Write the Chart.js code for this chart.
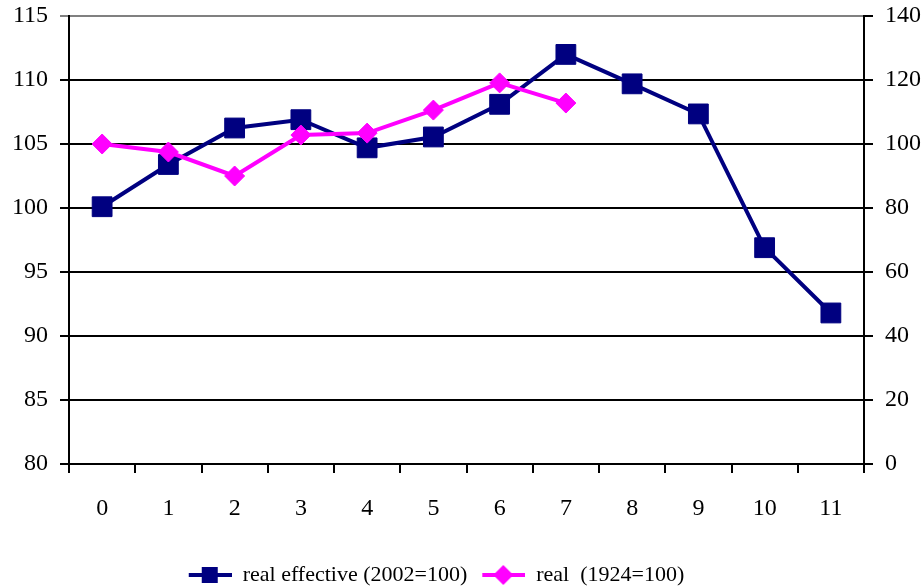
<!DOCTYPE html>
<html>
<head>
<meta charset="utf-8">
<script src="https://cdn.jsdelivr.net/npm/chart.js@4/dist/chart.umd.min.js"></script>
<style>
html,body{margin:0;padding:0;background:#fff;}
#wrap{width:924px;height:588px;position:relative;}
</style>
</head>
<body>
<div id="wrap"><canvas id="c" width="924" height="588"></canvas></div>
<script>
const categories = ['0','1','2','3','4','5','6','7','8','9','10','11'];
const realEffective = [100.1, 103.4, 106.25, 106.9, 104.7, 105.55, 108.1, 112.0, 109.7, 107.35, 96.9, 91.8];
const real1924 = [100, 97.5, 90, 102.8, 103.4, 110.6, 119.1, 112.8, null, null, null, null];
const leftTicks = [80, 85, 90, 95, 100, 105, 110, 115];
const rightTicks = [0, 20, 40, 60, 80, 100, 120, 140];

const NAVY = '#000080';
const PINK = '#FF00FF';
const FONT = '"Liberation Serif", "Times New Roman", serif';

function legendIcon(color, shape) {
  const cv = document.createElement('canvas');
  cv.width = 58; cv.height = 22;
  const g = cv.getContext('2d');
  const x0 = 15, x1 = 58, cx = 36;
  g.strokeStyle = color; g.lineWidth = 4;
  g.beginPath(); g.moveTo(x0, 11); g.lineTo(x1, 11); g.stroke();
  g.fillStyle = color;
  if (shape === 'rect') {
    g.fillRect(cx - 8, 11 - 8, 16, 16);
  } else {
    g.beginPath(); g.moveTo(cx - 10, 11); g.lineTo(cx, 1); g.lineTo(cx + 10, 11); g.lineTo(cx, 21); g.closePath(); g.fill();
  }
  return cv;
}

const legendShift = {
  id: 'legendShift',
  afterLayout(chart) {
    const lg = chart.legend;
    if (lg) { lg.left -= 33; lg.right -= 33; lg.top += 8; lg.bottom += 8; }
  }
};

new Chart(document.getElementById('c'), {
  type: 'line',
  data: {
    labels: categories,
    datasets: [
      {
        label: 'real effective (2002=100)',
        data: realEffective,
        yAxisID: 'y',
        borderColor: NAVY,
        backgroundColor: NAVY,
        borderWidth: 4,
        pointStyle: 'rect',
        pointRadius: 14,
        pointBorderWidth: 1,
        pointBorderColor: NAVY,
        pointBackgroundColor: NAVY,
        tension: 0,
        order: 2
      },
      {
        label: 'real  (1924=100)',
        data: real1924,
        yAxisID: 'y1',
        borderColor: PINK,
        backgroundColor: PINK,
        borderWidth: 4,
        pointStyle: 'rectRot',
        pointRadius: 10,
        pointBorderWidth: 1,
        pointBorderColor: PINK,
        pointBackgroundColor: PINK,
        tension: 0,
        spanGaps: false,
        order: 1
      }
    ]
  },
  plugins: [legendShift],
  options: {
    responsive: false,
    animation: false,
    devicePixelRatio: 1,
    layout: { padding: { top: 16, left: 0, right: 0, bottom: 0 } },
    plugins: {
      tooltip: { enabled: false },
      legend: {
        position: 'bottom',
        labels: {
          usePointStyle: true,
          pointStyleWidth: 58,
          boxHeight: 22,
          padding: 0,
          color: '#000',
          font: { family: FONT, size: 22 },
          generateLabels: (chart) => {
            return chart.data.datasets.map((ds, i) => ({
              text: ds.label,
              pointStyle: legendIcon(ds.borderColor, i === 0 ? 'rect' : 'diamond'),
              fillStyle: ds.borderColor,
              strokeStyle: ds.borderColor,
              lineWidth: 0,
              hidden: false,
              datasetIndex: i,
              fontColor: '#000'
            }));
          }
        }
      }
    },
    scales: {
      x: {
        type: 'category',
        offset: true,
        grid: { display: true, offset: true, drawOnChartArea: false, drawTicks: true, tickLength: 9, color: '#000', lineWidth: 2 },
        border: { display: true, color: '#000', width: 2 },
        ticks: { color: '#000', font: { family: FONT, size: 24 }, padding: 21, maxRotation: 0, autoSkip: false },
        afterFit: (s) => { s.height = 92; }
      },
      y: {
        type: 'linear',
        position: 'left',
        min: 80, max: 115,
        afterBuildTicks: (s) => { s.ticks = leftTicks.map(v => ({ value: v })); },
        grid: {
          drawOnChartArea: true, drawTicks: true, tickLength: 9,
          color: (ctx) => (ctx.tick && ctx.tick.value === 115 ? '#808080' : '#000'),
          lineWidth: 2
        },
        border: { display: true, color: '#000', width: 2 },
        ticks: { color: '#000', font: { family: FONT, size: 24 }, padding: 12 },
        afterFit: (s) => { s.width = 69; s.paddingTop = 0; s.paddingBottom = 0; }
      },
      y1: {
        type: 'linear',
        position: 'right',
        min: 0, max: 140,
        afterBuildTicks: (s) => { s.ticks = rightTicks.map(v => ({ value: v })); },
        grid: { drawOnChartArea: false, drawTicks: true, tickLength: 9, color: '#000', lineWidth: 2 },
        border: { display: true, color: '#000', width: 2 },
        ticks: { color: '#000', font: { family: FONT, size: 24 }, padding: 12 },
        afterFit: (s) => { s.width = 60; s.paddingTop = 0; s.paddingBottom = 0; }
      }
    }
  }
});
</script>
</body>
</html>
